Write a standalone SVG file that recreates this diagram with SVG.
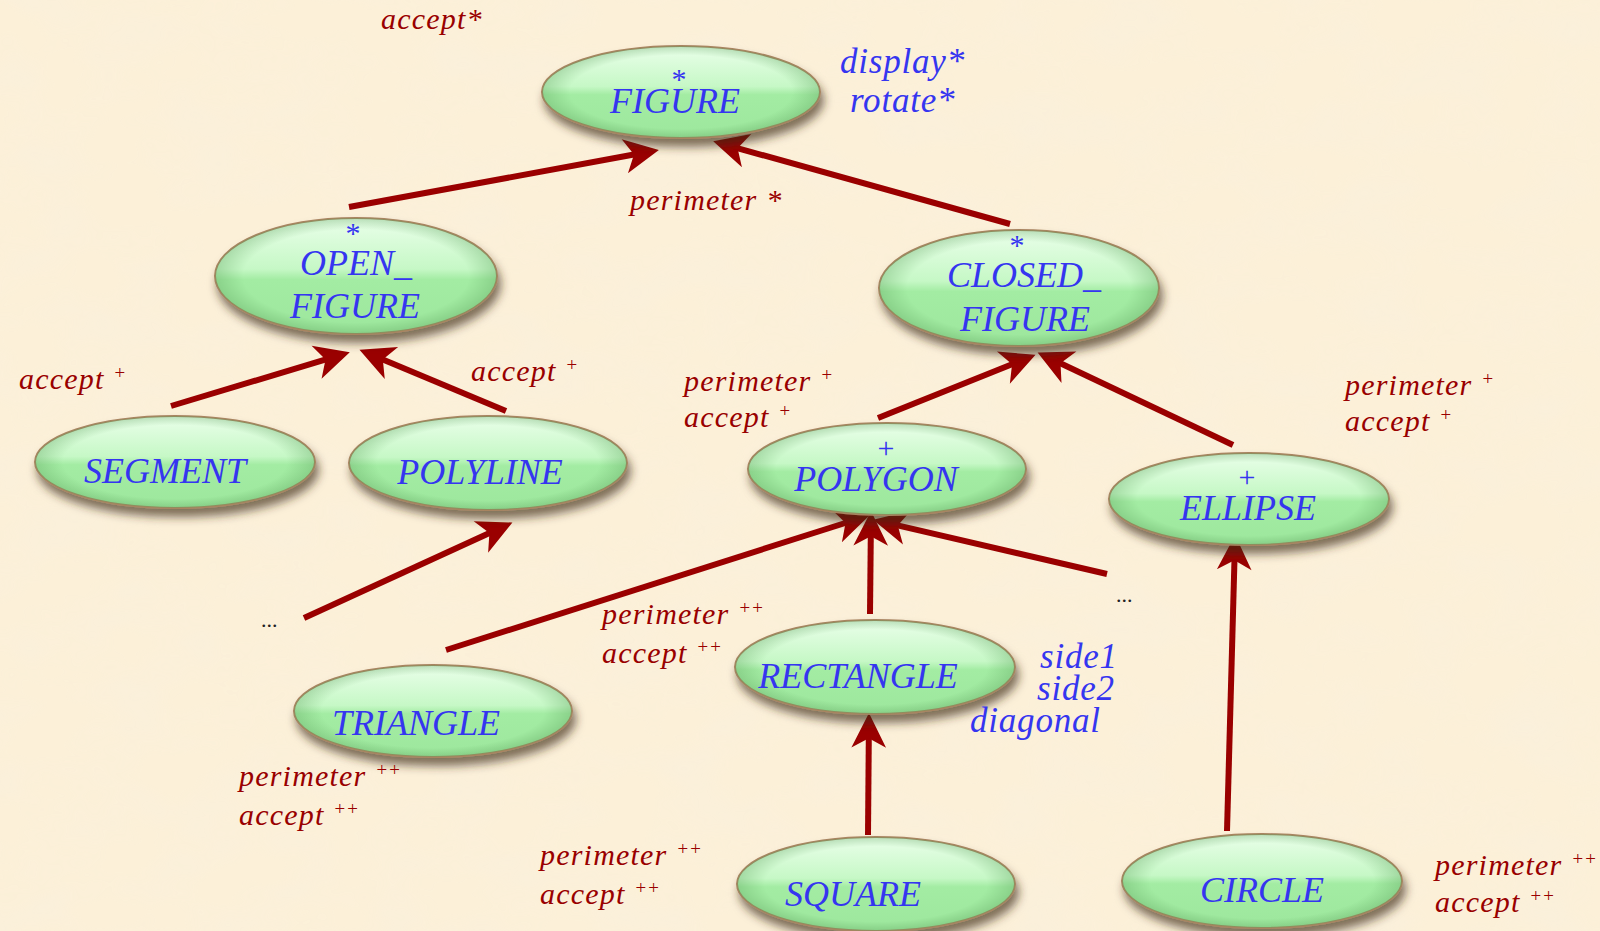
<svg xmlns="http://www.w3.org/2000/svg" width="1600" height="931" viewBox="0 0 1600 931">
  <defs>
    <style>
      .lbl { font-family: "Liberation Serif", "DejaVu Serif", serif; font-style: italic; }
      .name { fill: #3535f0; font-size: 36px; text-anchor: middle; }
      .mark { fill: #3535f0; font-size: 30px; text-anchor: middle; font-style: normal; }
      .feat { fill: #3535f0; font-size: 35px; letter-spacing: 0.8px; }
      .tag { fill: #990000; font-size: 30px; letter-spacing: 1.2px; }
      .sup { font-size: 19px; letter-spacing: 0; }
      .dots { fill: #222; font-family: "Liberation Serif", serif; font-size: 22px; }
      .node-shape { fill: url(#gloss); stroke: #a98461; stroke-width: 2; filter: url(#drop); }
      .node-rim { fill: url(#rim); pointer-events: none; }
      .edge { stroke: #9a0000; stroke-width: 6; fill: none; marker-end: url(#head); }
    </style>
    <linearGradient id="gloss" x1="0" y1="0" x2="0" y2="1">
      <stop offset="0" stop-color="#eaffea"/>
      <stop offset="0.44" stop-color="#c6f8c6"/>
      <stop offset="0.53" stop-color="#a3eca3"/>
      <stop offset="1" stop-color="#9de79d"/>
    </linearGradient>
    <radialGradient id="rim" cx="0.5" cy="0.5" r="0.5">
      <stop offset="0.8" stop-color="#5aa05a" stop-opacity="0"/>
      <stop offset="1" stop-color="#5aa05a" stop-opacity="0.35"/>
    </radialGradient>
    <filter id="drop" x="-20%" y="-30%" width="140%" height="170%">
      <feGaussianBlur in="SourceAlpha" stdDeviation="5" result="b"/>
      <feOffset in="b" dx="3" dy="8" result="o"/>
      <feFlood flood-color="#3c2a18" flood-opacity="0.65"/>
      <feComposite in2="o" operator="in" result="s"/>
      <feMerge>
        <feMergeNode in="s"/>
        <feMergeNode in="SourceGraphic"/>
      </feMerge>
    </filter>
    <filter id="paper" x="0" y="0" width="100%" height="100%">
      <feTurbulence type="fractalNoise" baseFrequency="0.012 0.02" numOctaves="3" seed="7" result="n"/>
      <feColorMatrix in="n" type="matrix" values="0 0 0 0 0.94  0 0 0 0 0.87  0 0 0 0 0.74  0 0 0 1.3 -0.5"/>
    </filter>
    <marker id="head" markerUnits="userSpaceOnUse" markerWidth="40" markerHeight="40" viewBox="-10 -15 30 30" refX="0" refY="0" orient="auto">
      <path d="M18,0 L-8,-13 L-1,0 L-8,13 Z" fill="#9a0000"/>
    </marker>
  </defs>

  <!-- parchment background -->
  <rect width="1600" height="931" fill="#fcf0d8"/>
  <rect width="1600" height="931" filter="url(#paper)" opacity="0.65"/>

  <!-- inheritance connectors -->
  <g id="connectors">
    <line class="edge" x1="349" y1="207" x2="635.3" y2="154.3"/>
    <line class="edge" x1="1010" y1="224" x2="736.3" y2="147.8"/>
    <line class="edge" x1="171" y1="406" x2="326.8" y2="359.2"/>
    <line class="edge" x1="506" y1="411" x2="381.6" y2="359"/>
    <line class="edge" x1="878" y1="418" x2="1013.3" y2="363.7"/>
    <line class="edge" x1="1233" y1="445" x2="1059.3" y2="362.7"/>
    <line class="edge" x1="304" y1="618" x2="490.6" y2="532.5"/>
    <line class="edge" x1="446" y1="650" x2="846.8" y2="522.5"/>
    <line class="edge" x1="870" y1="614" x2="870.8" y2="535"/>
    <line class="edge" x1="1107" y1="574" x2="896.5" y2="525.1"/>
    <line class="edge" x1="868" y1="835" x2="868.8" y2="737"/>
    <line class="edge" x1="1227" y1="831" x2="1234.5" y2="559"/>
  </g>

  <!-- classes -->
  <g id="figure">
    <ellipse class="node-shape" cx="681" cy="92" rx="139" ry="46"/>
    <ellipse class="node-rim" cx="681" cy="92" rx="139" ry="46"/>
    <text class="lbl mark" x="679" y="89">*</text>
    <text class="lbl name" x="675" y="113">FIGURE</text>
  </g>

  <g id="open_figure">
    <ellipse class="node-shape" cx="356" cy="276" rx="141" ry="58"/>
    <ellipse class="node-rim" cx="356" cy="276" rx="141" ry="58"/>
    <text class="lbl mark" x="353" y="243">*</text>
    <text class="lbl name" x="356" y="275">OPEN_</text>
    <text class="lbl name" x="355" y="318">FIGURE</text>
  </g>

  <g id="closed_figure">
    <ellipse class="node-shape" cx="1019" cy="288" rx="140" ry="58"/>
    <ellipse class="node-rim" cx="1019" cy="288" rx="140" ry="58"/>
    <text class="lbl mark" x="1017" y="255">*</text>
    <text class="lbl name" x="1024" y="287">CLOSED_</text>
    <text class="lbl name" x="1025" y="331">FIGURE</text>
  </g>

  <g id="segment">
    <ellipse class="node-shape" cx="175" cy="462" rx="140" ry="46"/>
    <ellipse class="node-rim" cx="175" cy="462" rx="140" ry="46"/>
    <text class="lbl name" x="165" y="483">SEGMENT</text>
  </g>

  <g id="polyline">
    <ellipse class="node-shape" cx="488" cy="463" rx="139" ry="47"/>
    <ellipse class="node-rim" cx="488" cy="463" rx="139" ry="47"/>
    <text class="lbl name" x="480" y="484">POLYLINE</text>
  </g>

  <g id="polygon">
    <ellipse class="node-shape" cx="887" cy="469" rx="139" ry="46"/>
    <ellipse class="node-rim" cx="887" cy="469" rx="139" ry="46"/>
    <text class="lbl mark" x="886" y="458">+</text>
    <text class="lbl name" x="876" y="491">POLYGON</text>
  </g>

  <g id="ellipse">
    <ellipse class="node-shape" cx="1249" cy="499" rx="140" ry="46"/>
    <ellipse class="node-rim" cx="1249" cy="499" rx="140" ry="46"/>
    <text class="lbl mark" x="1247" y="487">+</text>
    <text class="lbl name" x="1248" y="520">ELLIPSE</text>
  </g>

  <g id="triangle">
    <ellipse class="node-shape" cx="433" cy="711" rx="139" ry="46"/>
    <ellipse class="node-rim" cx="433" cy="711" rx="139" ry="46"/>
    <text class="lbl name" x="416" y="735">TRIANGLE</text>
  </g>

  <g id="rectangle">
    <ellipse class="node-shape" cx="875" cy="667" rx="140" ry="47"/>
    <ellipse class="node-rim" cx="875" cy="667" rx="140" ry="47"/>
    <text class="lbl name" x="858" y="688">RECTANGLE</text>
  </g>

  <g id="square">
    <ellipse class="node-shape" cx="876" cy="884" rx="139" ry="47"/>
    <ellipse class="node-rim" cx="876" cy="884" rx="139" ry="47"/>
    <text class="lbl name" x="853" y="906">SQUARE</text>
  </g>

  <g id="circle">
    <ellipse class="node-shape" cx="1262" cy="881" rx="140" ry="47"/>
    <ellipse class="node-rim" cx="1262" cy="881" rx="140" ry="47"/>
    <text class="lbl name" x="1262" y="902">CIRCLE</text>
  </g>

  <!-- feature annotations -->
  <g id="features">
    <text class="lbl feat" x="840" y="73">display*</text>
    <text class="lbl feat" x="850" y="112">rotate*</text>
    <text class="lbl feat" x="1040" y="668">side1</text>
    <text class="lbl feat" x="1037" y="700">side2</text>
    <text class="lbl feat" x="970" y="732">diagonal</text>

    <text class="lbl tag" x="381" y="29">accept*</text>
    <text class="lbl tag" x="630" y="210">perimeter *</text>

    <text class="lbl tag" x="19" y="389">accept <tspan class="sup" dy="-10">+</tspan></text>
    <text class="lbl tag" x="471" y="381">accept <tspan class="sup" dy="-10">+</tspan></text>

    <text class="lbl tag" x="684" y="391">perimeter <tspan class="sup" dy="-10">+</tspan></text>
    <text class="lbl tag" x="684" y="427">accept <tspan class="sup" dy="-10">+</tspan></text>

    <text class="lbl tag" x="1345" y="395">perimeter <tspan class="sup" dy="-10">+</tspan></text>
    <text class="lbl tag" x="1345" y="431">accept <tspan class="sup" dy="-10">+</tspan></text>

    <text class="lbl tag" x="602" y="624">perimeter <tspan class="sup" dy="-10">++</tspan></text>
    <text class="lbl tag" x="602" y="663">accept <tspan class="sup" dy="-10">++</tspan></text>

    <text class="lbl tag" x="239" y="786">perimeter <tspan class="sup" dy="-10">++</tspan></text>
    <text class="lbl tag" x="239" y="825">accept <tspan class="sup" dy="-10">++</tspan></text>

    <text class="lbl tag" x="540" y="865">perimeter <tspan class="sup" dy="-10">++</tspan></text>
    <text class="lbl tag" x="540" y="904">accept <tspan class="sup" dy="-10">++</tspan></text>

    <text class="lbl tag" x="1435" y="875">perimeter <tspan class="sup" dy="-10">++</tspan></text>
    <text class="lbl tag" x="1435" y="912">accept <tspan class="sup" dy="-10">++</tspan></text>

    <text class="dots" x="261" y="627">...</text>
    <text class="dots" x="1116" y="602">...</text>
  </g>
</svg>
